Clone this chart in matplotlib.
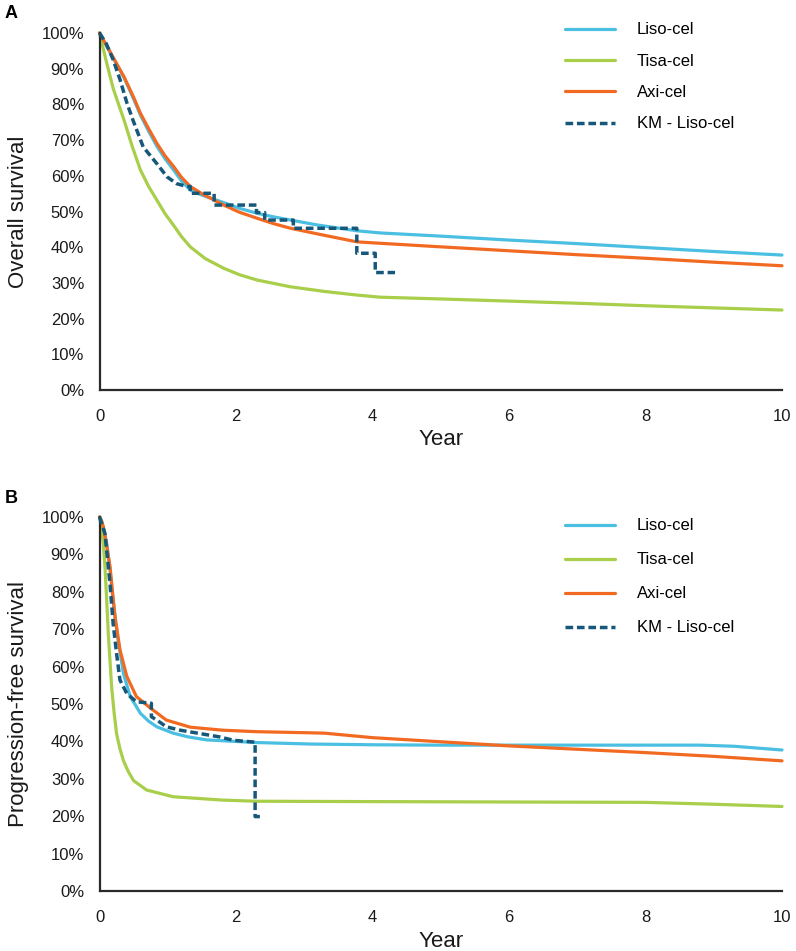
import matplotlib
matplotlib.use("Agg")
import matplotlib.pyplot as plt
from matplotlib.ticker import FuncFormatter

plt.rcParams['font.family'] = ['Liberation Sans', 'DejaVu Sans']

# ---------------- Panel A: Overall survival (%) ----------------
os_liso_year = [0, 0.1, 0.2, 0.36, 0.5, 0.6, 0.72, 0.84, 0.96, 1.09, 1.2, 1.33, 1.5, 1.82, 2.05, 2.31, 2.55, 2.8, 3.2, 3.77, 4.11, 5, 6, 7, 8, 9, 10]
os_liso = [100, 96.5, 93, 87.5, 81.5, 77, 72.5, 68.3, 64.8, 61.5, 58.6, 56, 54.6, 52.5, 50.9, 49.5, 48.5, 47.6, 46.2, 44.6, 44.0, 43.1, 42.0, 41.0, 39.9, 38.8, 37.8]

os_axi_year = [0, 0.1, 0.2, 0.36, 0.5, 0.6, 0.72, 0.84, 0.96, 1.09, 1.2, 1.33, 1.5, 1.82, 2.05, 2.31, 2.55, 2.8, 3.2, 3.77, 4.11, 5, 6, 7, 8, 9, 10]
os_axi = [100, 96.6, 93.2, 87.7, 82, 77.5, 73.2, 69.1, 65.6, 62.5, 59.6, 57.0, 55, 51.8, 49.8, 48.1, 46.6, 45.3, 43.7, 41.5, 41.1, 40.1, 39.0, 37.9, 36.9, 35.8, 34.8]

os_tisa_year = [0, 0.05, 0.1, 0.2, 0.28, 0.36, 0.48, 0.6, 0.72, 0.84, 0.96, 1.09, 1.2, 1.33, 1.55, 1.82, 2.05, 2.31, 2.8, 3.3, 3.77, 4.11, 5, 6, 7, 8, 9, 10]
os_tisa = [100, 96, 92, 84.5, 80, 75.6, 68.2, 61.6, 57, 53.2, 49.4, 46, 43, 40.1, 36.8, 34.1, 32.3, 30.8, 28.9, 27.6, 26.6, 26.0, 25.5, 24.9, 24.3, 23.6, 23.0, 22.4]

os_km_year = [0, 0.1, 0.2, 0.3, 0.4, 0.49, 0.64, 0.84, 0.99, 1.13, 1.28, 1.33, 1.33, 1.68, 1.68, 2.30, 2.30, 2.42, 2.42, 2.84, 2.84, 3.77, 3.77, 4.04, 4.04, 4.33]
os_km = [100, 97, 92.5, 87, 80.5, 75.6, 68.1, 63.4, 59.7, 57.8, 57.0, 57.0, 55.1, 55.1, 51.8, 51.8, 49.7, 49.7, 47.6, 47.6, 45.3, 45.3, 38.3, 38.3, 32.9, 32.9]

# ---------------- Panel B: Progression-free survival (%) ----------------
pfs_liso_year = [0, 0.03, 0.056, 0.105, 0.154, 0.2, 0.24, 0.28, 0.35, 0.45, 0.6, 0.72, 0.84, 1.08, 1.3, 1.57, 2.3, 3.08, 4, 5, 6, 7, 8, 8.8, 9.3, 10]
pfs_liso = [100, 99, 97, 93, 86, 77.8, 71.5, 66.2, 58.2, 52, 47.5, 45.4, 43.9, 42.2, 41.2, 40.4, 39.7, 39.3, 39.1, 39.0, 39.0, 39.0, 39.0, 39.0, 38.7, 37.7]

pfs_axi_year = [0, 0.03, 0.056, 0.1, 0.154, 0.19, 0.227, 0.3, 0.4, 0.54, 0.74, 0.98, 1.33, 1.8, 2.3, 3.08, 3.3, 4, 5, 5.55, 6, 7, 8, 9, 10]
pfs_axi = [100, 99, 97.4, 93, 86.7, 80, 73.4, 64.5, 57.4, 52, 49, 45.7, 43.8, 43.0, 42.6, 42.3, 42.2, 41.0, 39.9, 39.3, 38.8, 37.9, 37.0, 36.0, 34.8]

pfs_tisa_year = [0, 0.03, 0.056, 0.08, 0.105, 0.129, 0.178, 0.215, 0.251, 0.3, 0.35, 0.42, 0.5, 0.69, 1.08, 1.81, 2.3, 4, 6, 8, 9, 10]
pfs_tisa = [100, 97, 93, 86.7, 78, 68.8, 54.5, 47.5, 42.0, 38, 34.9, 32, 29.5, 27.0, 25.2, 24.3, 24.0, 23.9, 23.8, 23.7, 23.2, 22.6]

pfs_km_year = [0, 0.08, 0.154, 0.2, 0.25, 0.3, 0.4, 0.54, 0.76, 0.76, 0.84, 0.98, 1.18, 1.47, 1.76, 1.96, 2.28, 2.28, 2.35]
pfs_km = [100, 95.6, 82.2, 71.5, 63.5, 56.4, 52.8, 50.6, 50.2, 46.6, 45.7, 43.9, 43.0, 42.1, 41.2, 40.3, 39.8, 19.9, 19.9]

series_labels = ['Liso-cel', 'Tisa-cel', 'Axi-cel', 'KM - Liso-cel']
x_ticks = [0, 2, 4, 6, 8, 10]
y_ticks = [0, 10, 20, 30, 40, 50, 60, 70, 80, 90, 100]

colors = {'Liso-cel': '#4BBFE2', 'Tisa-cel': '#A8CE4A', 'Axi-cel': '#F26A21', 'KM - Liso-cel': '#17587A'}

W, H = 796, 951
fig = plt.figure(figsize=(W / 100, H / 100), dpi=100)

def px_axes(left, top, right, bottom):
    return fig.add_axes([left / W, 1 - bottom / H, (right - left) / W, (bottom - top) / H])

axA = px_axes(99.5, 33, 782, 390)
axB = px_axes(99.5, 517, 782, 891)

panels = [
    (axA, 'Overall survival', 'A', (os_liso_year, os_liso), (os_tisa_year, os_tisa), (os_axi_year, os_axi), (os_km_year, os_km), 22.5, 0.98),
    (axB, 'Progression-free survival', 'B', (pfs_liso_year, pfs_liso), (pfs_tisa_year, pfs_tisa), (pfs_axi_year, pfs_axi), (pfs_km_year, pfs_km), 518.5, 1.14),
]

for ax, ylab, letter, liso, tisa, axi, km, leg_top, lspace in panels:
    handles = []
    for lab, (xs, ys) in zip(series_labels[:3], [liso, tisa, axi]):
        h, = ax.plot(xs, ys, color=colors[lab], lw=2.3, solid_capstyle='round', clip_on=False, label=lab)
        handles.append(h)
    h, = ax.plot(km[0], km[1], color=colors['KM - Liso-cel'], lw=2.5, dashes=(2.2, 1.1), clip_on=False,
                 label='KM - Liso-cel', zorder=3)
    handles.append(h)

    ax.set_xlim(0, 10)
    ax.set_ylim(0, 100)
    ax.set_xticks(x_ticks)
    ax.set_yticks(y_ticks)
    ax.yaxis.set_major_formatter(FuncFormatter(lambda v, p: f'{v:.0f}%'))
    for s in ['top', 'right']:
        ax.spines[s].set_visible(False)
    for s in ['left', 'bottom']:
        ax.spines[s].set_color('#2a2a2a')
        ax.spines[s].set_linewidth(1.6)
    ax.tick_params(axis='both', length=0, labelsize=12, colors='#1a1a1a')
    ax.tick_params(axis='y', pad=11)
    ax.tick_params(axis='x', pad=14)

    ax.set_xlabel('Year', fontsize=16, color='#1a1a1a')
    ax.set_ylabel(ylab, fontsize=16, color='#1a1a1a')
    ax.xaxis.set_label_coords(0.5, -0.108)
    ax.yaxis.set_label_coords(-0.104, 0.5)

    ax.legend(handles=handles, loc='upper left', bbox_to_anchor=(565 / W, 1 - leg_top / H),
              bbox_transform=fig.transFigure, frameon=False, fontsize=12, borderpad=0,
              borderaxespad=0, handlelength=3.0, handletextpad=1.3, labelspacing=lspace)

fig.text(11 / W, 1 - 13.5 / H, 'A', fontsize=13, fontweight='bold', ha='center', va='center')
fig.text(11.5 / W, 1 - 498.5 / H, 'B', fontsize=13, fontweight='bold', ha='center', va='center')

fig.savefig('out.png', dpi=100)
